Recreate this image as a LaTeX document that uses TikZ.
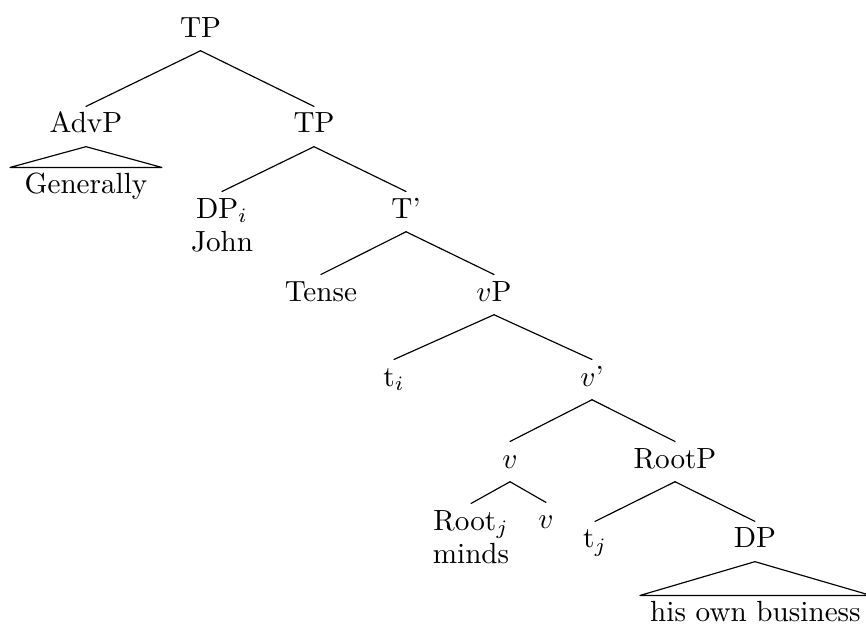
\documentclass[tikz,border=0pt]{standalone}
\usepackage{amsmath}

\begin{document}
\begin{tikzpicture}[line cap=round,line join=round,x=1.0cm,y=1.0cm,
		cat/.style={anchor=base,inner xsep=2pt,inner ysep=2pt,text height=6.9pt,text depth=2.5pt},
		word/.style={anchor=base,inner sep=2pt},
		roofword/.style={cat,inner xsep=3.3pt}]
		\useasboundingbox (0,0) rectangle (10.434,-7.542);
		\node[cat] (tp) at (2.416,-0.446) {TP};
		\node[cat] (advp) at (1.036,-1.602) {AdvP};
		\node[roofword,inner xsep=4.8pt] (gen) at (1.036,-2.337) {Generally};
		\node[cat] (tpb) at (3.783,-1.602) {TP};
		\node[cat] (dpi) at (2.675,-2.627) {DP$_i$};
		\node[word] (john) at (2.675,-3.036) {John};
		\node[cat] (tbar) at (4.892,-2.627) {T'};
		\node[cat] (tense) at (3.867,-3.627) {Tense};
		\node[cat] (vp) at (5.952,-3.627) {$v$P};
		\node[cat] (ti) at (4.747,-4.651) {t$_i$};
		\node[cat] (vbar) at (7.133,-4.651) {$v$'};
		\node[cat] (vhead) at (6.145,-5.639) {$v$};
		\node[cat] (rootp) at (8.133,-5.639) {RootP};
		\node[cat] (rootj) at (5.675,-6.386) {Root$_j$};
		\node[word] (minds) at (5.675,-6.795) {minds};
		\node[cat] (vlow) at (6.578,-6.373) {$v$};
		\node[cat] (tj) at (7.169,-6.602) {t$_j$};
		\node[cat] (dp) at (9.096,-6.602) {DP};
		\node[roofword] (hob) at (9.102,-7.494) {his own business};
		\draw (tp.south) -- (advp.north);
		\draw (tp.south) -- (tpb.north);
		\draw (advp.south) -- (gen.north west) -- (gen.north east) -- cycle;
		\draw (tpb.south) -- (dpi.north);
		\draw (tpb.south) -- (tbar.north);
		\draw (tbar.south) -- (tense.north);
		\draw (tbar.south) -- (vp.north);
		\draw (vp.south) -- (ti.north);
		\draw (vp.south) -- (vbar.north);
		\draw (vbar.south) -- (vhead.north);
		\draw (vbar.south) -- (rootp.north);
		\draw (vhead.south) -- (rootj.north);
		\draw (vhead.south) -- (vlow.north);
		\draw (rootp.south) -- (tj.north);
		\draw (rootp.south) -- (dp.north);
		\draw (dp.south) -- (hob.north west) -- (hob.north east) -- cycle;
	\end{tikzpicture}
\end{document}
